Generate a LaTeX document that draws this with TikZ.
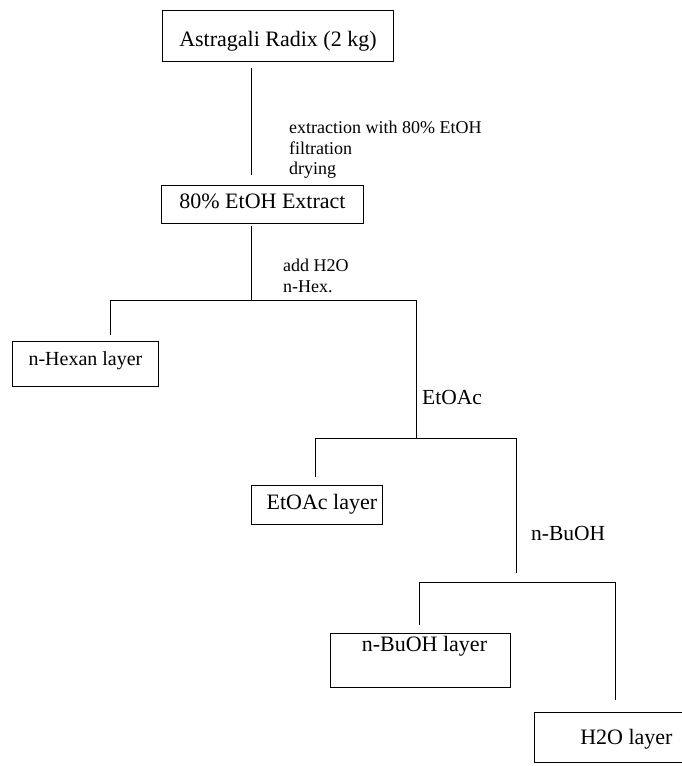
\documentclass[tikz,border=0pt]{standalone}
\usepackage{fontspec}
\setmainfont{Liberation Serif}
\usepackage{tikz}
\usetikzlibrary{positioning}

\begin{document}
\begin{tikzpicture}[
  x=1pt, y=-1pt,
  box/.style={draw, line width=0.9pt, anchor=north west, inner sep=0pt, font=\fontsize{22}{24}\selectfont},
  detail/.style={font=\fontsize{18}{20.5}\selectfont, align=left, inner sep=0pt},
  bigdetail/.style={detail, font=\fontsize{21.5}{24}\selectfont},
  link/.style={draw, line width=0.9pt}
]
  \useasboundingbox (0,0) rectangle (682,766);

  % Starting material
  \node[box, minimum width=231pt, minimum height=51pt, text height=21pt, text depth=0pt] (radix) at (162,10) {Astragali Radix (2 kg)};

  % Crude extract
  \node[box, minimum width=202pt, minimum height=38pt, text height=12pt, text depth=4pt] (extract) at (161,185) {80\% EtOH Extract};

  % Layers
  \node[box, font=\fontsize{20}{22}\selectfont, minimum width=146pt, minimum height=45pt, text height=12pt, text depth=8pt] (hexan) at (12,341) {n-Hexan layer};
  \node[box, minimum width=131pt, minimum height=39pt, text height=13pt, text depth=4pt] (etoac) at (251,485) {\hspace*{10pt}EtOAc layer};
  \node[box, minimum width=180pt, minimum height=54pt, text height=12pt, text depth=30pt] (buoh) at (330,633) {\hspace*{8pt}n-BuOH layer};
  \node[box, minimum width=150pt, minimum height=50pt, text height=15pt, text depth=0pt] (water) at (534,712) {\hspace*{34pt}H2O layer};

  % Split points
  \coordinate (split1) at (251,300);
  \coordinate (split2) at (416,438);
  \coordinate (split3) at (516,582);
  \coordinate (left1) at (110,300);
  \coordinate (left2) at (315,438);
  \coordinate (left3) at (419,582);
  \coordinate (right3) at (615,582);

  % Extraction step
  \draw[link, shorten <=6pt, shorten >=10pt] (radix.south -| split1) -- (extract.north -| split1);
  \node[detail, anchor=north west] (steps) at (289,121) {extraction with 80\% EtOH\\filtration\\drying};

  % Partition with n-Hex.
  \draw[link, shorten <=2pt] (extract.south -| split1) -- (split1);
  \node[detail, anchor=north west] (hexstep) at (283,259) {add H2O\\n-Hex.};
  \draw[link] ([yshift=6pt]hexan.north -| left1) -- (left1) -- (split2 |- split1) -- (split2);

  % Partition with EtOAc
  \node[bigdetail, anchor=west] (etstep) at (422,397) {EtOAc};
  \draw[link] ([yshift=8pt]etoac.north -| left2) -- (left2) -- (split3 |- split2) -- ([yshift=9pt]split3);

  % Partition with n-BuOH
  \node[bigdetail, anchor=west] (bustep) at (531,533) {n-BuOH};
  \draw[link] ([yshift=8pt]buoh.north -| left3) -- (left3) -- (right3) -- ([yshift=12pt]water.north -| right3);
\end{tikzpicture}
\end{document}
